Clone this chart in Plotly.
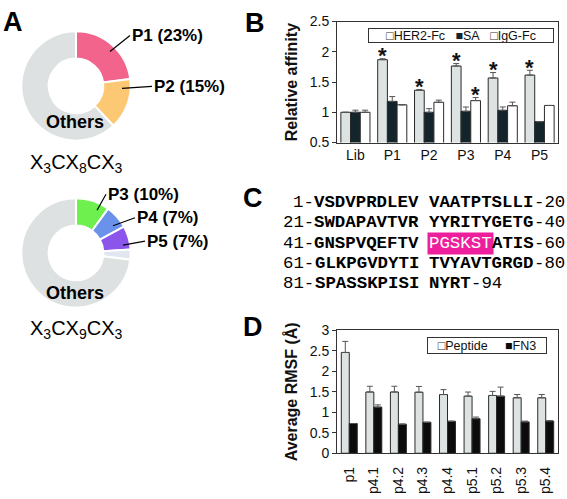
import plotly.graph_objects as go

# ---------------- data ----------------
# Panel A (peptide frequencies, %)
pie1_labels = ["P1", "P2", "Others"]
pie1_values = [23, 15, 62]
pie1_colors = ["#f2648c", "#fdc873", "#dde1e2"]
pie1_title = "X<sub>3</sub>CX<sub>8</sub>CX<sub>3</sub>"

pie2_labels = ["P3", "P4", "P5", "Others (minor)", "Others"]
pie2_values = [10, 7, 7, 3, 73]
pie2_colors = ["#6ef04e", "#6b92ea", "#8b55ec", "#e1e7f1", "#dde1e2"]
pie2_title = "X<sub>3</sub>CX<sub>9</sub>CX<sub>3</sub>"

# Panel B (relative affinity)
b_categories = ["Lib", "P1", "P2", "P3", "P4", "P5"]
her2 = [1.00, 1.87, 1.365, 1.765, 1.567, 1.615]
her2_err = [0.0, 0.015, 0.01, 0.04, 0.09, 0.08]
sa = [1.00, 1.18, 1.00, 1.017, 1.033, 0.845]
sa_err = [0.035, 0.08, 0.06, 0.07, 0.055, 0.0]
igg = [1.00, 1.124, 1.166, 1.193, 1.108, 1.113]
igg_err = [0.035, 0.0, 0.035, 0.05, 0.06, 0.0]
her2_sig = [False, True, True, True, True, True]
igg_sig = [False, False, False, True, False, False]

# Panel C (FN3 sequence)
fn3_sequence = ("VSDVPRDLEVVAATPTSLLI" "SWDAPAVTVRYYRITYGETG" "GNSPVQEFTVPGSKSTATIS"
                "GLKPGVDYTITVYAVTGRGD" "SPASSKPISINYRT")
highlight_start, highlight_end = 51, 56  # PGSKST

# Panel D (average RMSF, Angstrom)
d_categories = ["p1", "p4.1", "p4.2", "p4.3", "p4.4", "p5.1", "p5.2", "p5.3", "p5.4"]
peptide = [2.46, 1.495, 1.495, 1.49, 1.433, 1.394, 1.41, 1.354, 1.354]
peptide_err = [0.27, 0.14, 0.14, 0.14, 0.12, 0.10, 0.10, 0.08, 0.08]
fn3 = [0.725, 1.126, 0.709, 0.756, 0.78, 0.843, 1.394, 0.764, 0.787]
fn3_err = [0.0, 0.055, 0.0, 0.0, 0.0, 0.04, 0.22, 0.02, 0.01]

# ---------------- helpers ----------------
W, H = 567, 499
def px(x):
    return x / W
def py(y):
    return 1 - y / H

SANS = "Liberation Sans, Arial, sans-serif"
MONO = "Liberation Mono, Courier New, monospace"
LINE = "#2a2a2a"
NB = "\u00a0"

fig = go.Figure()

# ---------------- Panel A: donuts ----------------
fig.add_trace(go.Pie(
    labels=pie1_labels, values=pie1_values, sort=False, direction="clockwise",
    rotation=0, hole=0.5, textinfo="none", showlegend=False,
    marker=dict(colors=pie1_colors, line=dict(color="white", width=2)),
    domain=dict(x=[px(19.5), px(132.5)], y=[py(137), py(24)])))
fig.add_trace(go.Pie(
    labels=pie2_labels, values=pie2_values, sort=False, direction="clockwise",
    rotation=0, hole=0.5, textinfo="none", showlegend=False,
    marker=dict(colors=pie2_colors, line=dict(color="white", width=2)),
    domain=dict(x=[px(19.5), px(132.5)], y=[py(309.5), py(196.5)])))

# ---------------- Panel B: grouped bars ----------------
nb = 3
gap_b = 0.21
wb = (1 - gap_b) / nb
xb = list(range(len(b_categories)))
b_series = [("HER2-Fc", her2, her2_err, "#dde3e3"),
            ("SA", sa, sa_err, "#14242b"),
            ("IgG-Fc", igg, igg_err, "#ffffff")]
for k, (name, vals, errs, col) in enumerate(b_series):
    off = -(1 - gap_b) / 2 + k * wb
    fig.add_trace(go.Bar(
        x=xb, y=vals, name=name, width=wb, offset=off, showlegend=False,
        marker=dict(color=col, line=dict(color=LINE, width=1)),
        error_y=dict(type="data", array=errs, arrayminus=[0] * len(errs), symmetric=False,
                     color="#555555", thickness=1, width=3),
        xaxis="x", yaxis="y"))

# ---------------- Panel D: grouped bars ----------------
nd = 2
gap_d = 0.35
wd = (1 - gap_d) / nd
xd = list(range(len(d_categories)))
d_series = [("Peptide", peptide, peptide_err, "#dde3e3"),
            ("FN3", fn3, fn3_err, "#0b0b0b")]
for k, (name, vals, errs, col) in enumerate(d_series):
    off = -(1 - gap_d) / 2 + k * wd
    fig.add_trace(go.Bar(
        x=xd, y=vals, name=name, width=wd, offset=off, showlegend=False,
        marker=dict(color=col, line=dict(color=LINE, width=1)),
        error_y=dict(type="data", array=errs, arrayminus=[0] * len(errs), symmetric=False,
                     color="#555555", thickness=1, width=3),
        xaxis="x2", yaxis="y2"))

ann = []

# stars (significance) in B
def bar_center(i, k):
    return i - (1 - gap_b) / 2 + (k + 0.5) * wb
for series_idx, sig, vals, errs in [(0, her2_sig, her2, her2_err), (2, igg_sig, igg, igg_err)]:
    for i, s in enumerate(sig):
        if s:
            ann.append(dict(x=bar_center(i, series_idx), y=vals[i] + errs[i], xref="x", yref="y",
                            text="<b>*</b>", showarrow=False, yanchor="middle", yshift=3,
                            font=dict(size=22, family=SANS, color="#111")))

# legends as boxed text
ann.append(dict(x=px(461), y=py(28), xref="paper", yref="paper", showarrow=False,
                text=("<span style='color:#333'>□</span>HER2-Fc" + NB * 3 +
                      "<span style='color:#14242b'>■</span>SA" + NB * 3 +
                      "<span style='color:#333'>□</span>IgG-Fc"),
                font=dict(size=12.5, family=SANS, color="#111"),
                bordercolor="#333", borderwidth=1, borderpad=0, width=184, height=13,
                bgcolor="white", xanchor="center", yanchor="middle"))
ann.append(dict(x=px(487), y=py(348.5), xref="paper", yref="paper", showarrow=False,
                text=("<span style='color:#333'>□</span>Peptide" + NB * 5 +
                      "<span style='color:#0b0b0b'>■</span>FN3"),
                font=dict(size=12.5, family=SANS, color="#111"),
                bordercolor="#333", borderwidth=1, borderpad=0, width=118, height=15,
                bgcolor="white", xanchor="center", yanchor="middle"))

# panel letters
for letter, (lx, ly) in zip("ABCD", [(12.5, 14), (254.5, 15), (252.5, 196.5), (252.5, 330)]):
    ann.append(dict(x=px(lx), y=py(ly), xref="paper", yref="paper", showarrow=False,
                    text="<b>%s</b>" % letter, font=dict(size=27, family=SANS, color="black"),
                    xanchor="center", yanchor="middle"))

# donut labels with leader lines
callouts = [
    ("P1 (23%)", (110, 45), (130, 29)),
    ("P2 (15%)", (122, 83), (152, 81)),
    ("P3 (10%)", (97, 209), (106, 193)),
    ("P4 (7%)", (113, 225), (135, 217)),
    ("P5 (7%)", (123, 245), (145, 241)),
]
for txt, (hx, hy), (tx, ty) in callouts:
    ann.append(dict(x=px(hx), y=py(hy), xref="paper", yref="paper",
                    ax=tx - hx, ay=ty - hy, axref="pixel", ayref="pixel",
                    text="<b>%s</b>" % txt, showarrow=True, arrowhead=0, arrowwidth=1.2,
                    arrowcolor="black", xanchor="left", yanchor="middle", standoff=0,
                    font=dict(size=17, family=SANS, color="black")))
for cy in [118, 294]:
    ann.append(dict(x=px(75), y=py(cy), xref="paper", yref="paper", showarrow=False,
                    text="<b>Others</b>", font=dict(size=18, family=SANS, color="black"),
                    xanchor="center", yanchor="middle"))
for t, cy in [(pie1_title, 161), (pie2_title, 332)]:
    ann.append(dict(x=px(76), y=py(cy), xref="paper", yref="paper", showarrow=False,
                    text=t, font=dict(size=20, family=SANS, color="black"),
                    xanchor="center", yanchor="middle"))

# Panel C: sequence text, one annotation per run of same style (centred on its columns)
FS = 17.4
cw = FS * 0.6
x0 = 283
line_y = [201, 222, 243, 264, 285]

def add_run(text, col, y, style):
    cx = x0 + (col + len(text) / 2.0) * cw
    a = dict(x=px(cx), y=py(y), xref="paper", yref="paper", showarrow=False,
             xanchor="center", yanchor="middle", borderpad=0,
             font=dict(size=FS, family=MONO, color="black"))
    if style == "bold":
        a["text"] = "<b>%s</b>" % text
    elif style == "hl":
        a["text"] = text
        a["bgcolor"] = "#ee1f9c"
        a["borderpad"] = 1
        a["font"] = dict(size=FS, family=MONO, color="white")
    else:
        a["text"] = text
    ann.append(a)

for li in range(5):
    start = li * 20 + 1
    chunk = fn3_sequence[li * 20: li * 20 + 20]
    end = start + len(chunk) - 1
    y = line_y[li]
    label = "%d-" % start
    add_run(label, 3 - len(label), y, "reg")
    cols = [3 + j + (1 if j >= 10 else 0) for j in range(len(chunk))]
    runs = []
    for j, ch in enumerate(chunk):
        res = start + j
        st = "hl" if highlight_start <= res <= highlight_end else "bold"
        if runs and runs[-1][2] == st and cols[j] == runs[-1][1] + len(runs[-1][0]):
            runs[-1][0] += ch
        else:
            runs.append([ch, cols[j], st])
    for text, col, st in runs:
        add_run(text, col, y, st)
    add_run("-%d" % end, cols[-1] + 1, y, "reg")

axis_common = dict(showline=True, mirror=True, linecolor="#333", linewidth=1,
                   showgrid=False, zeroline=False,
                   tickfont=dict(size=14, family=SANS, color="#111"))

fig.update_layout(
    width=W, height=H, margin=dict(l=0, r=0, t=0, b=0),
    paper_bgcolor="white", plot_bgcolor="white", showlegend=False,
    font=dict(family=SANS, color="#111"),
    barmode="overlay",
    xaxis=dict(domain=[px(337), px(558)], range=[-0.5, len(b_categories) - 0.5],
               tickvals=xb, ticktext=b_categories, ticks="", anchor="y", **axis_common),
    yaxis=dict(domain=[py(139), py(14)], range=[0.5, 2.5], dtick=0.5, ticks="outside",
               ticklen=4, tickcolor="#333", anchor="x",
               title=dict(text="<b>Relative affinity</b>", font=dict(size=16, family=SANS, color="#111"),
                          standoff=8),
               **axis_common),
    xaxis2=dict(domain=[px(337), px(558)], range=[-0.5, len(d_categories) - 0.5],
                tickvals=xd, ticktext=d_categories, ticks="", tickangle=-90, anchor="y2",
                ticklabelstandoff=7, **axis_common),
    yaxis2=dict(domain=[py(460), py(333)], range=[0, 3], dtick=0.5, ticks="outside",
                ticklen=4, tickcolor="#333", anchor="x2",
                title=dict(text="<b>Average RMSF (Å)</b>", font=dict(size=16, family=SANS, color="#111"),
                           standoff=8),
                **axis_common),
    annotations=ann,
)

# remove the browser's default page margin so the figure fills the window exactly
fig.write_html("out.html", config={"displayModeBar": False},
               post_script="document.body.style.margin='0';document.body.style.overflow='hidden';")
